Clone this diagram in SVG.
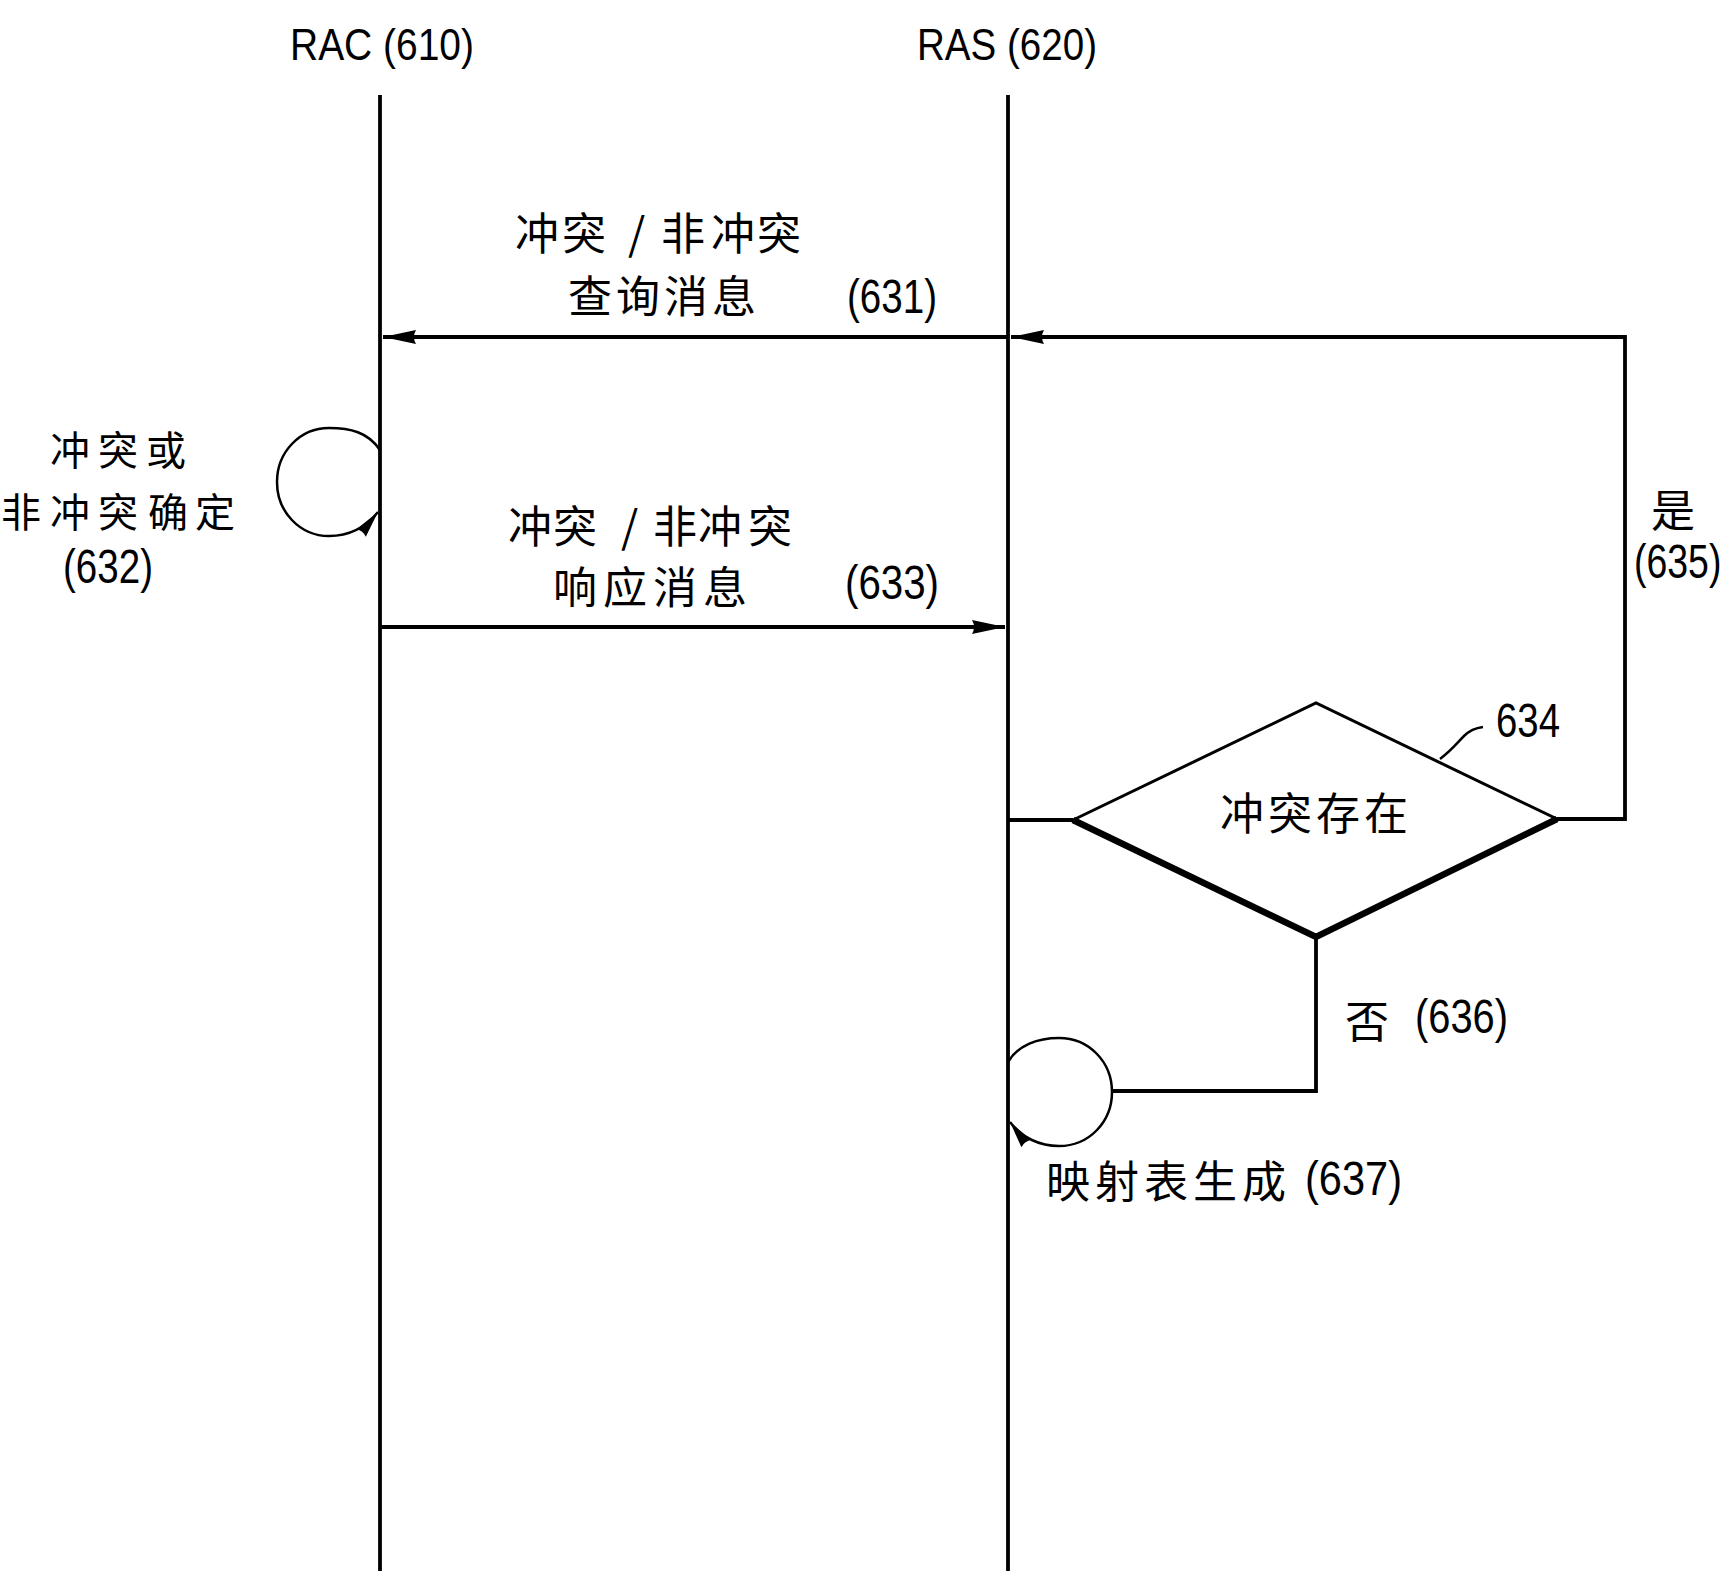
<svg xmlns="http://www.w3.org/2000/svg" width="1736" height="1582" viewBox="0 0 1736 1582">
<style>
.cjk{font-family:"Noto Sans CJK SC","Noto Sans CJK JP",sans-serif;font-size:44px;fill:#000}
.cjk40{font-family:"Noto Sans CJK SC","Noto Sans CJK JP",sans-serif;font-size:40px;fill:#000}
.num{font-family:"Liberation Sans",Arial,sans-serif;font-size:48px;fill:#000}
.hd{font-family:"Liberation Sans",Arial,sans-serif;font-size:44px;fill:#000}
.ln{stroke:#000;fill:none;stroke-width:3.8}
.thin{stroke:#000;fill:none;stroke-width:2.5}
</style>
<defs>
<marker id="ah" markerUnits="userSpaceOnUse" markerWidth="36" markerHeight="18" refX="33" refY="9" orient="auto">
<path d="M0,2 L33,9 L0,16 Q4,9 0,2z" fill="#000"/>
</marker>
<marker id="ahs" markerUnits="userSpaceOnUse" markerWidth="30" markerHeight="16" refX="27" refY="8" orient="auto">
<path d="M0,2 L27,8 L0,14 Q3,8 0,2z" fill="#000"/>
</marker>
</defs>
<rect width="1736" height="1582" fill="#fff"/>

<g id="rac">
<text class="hd" x="290" y="60" textLength="184" lengthAdjust="spacingAndGlyphs">RAC (610)</text>
<line class="ln" x1="380" y1="95" x2="380" y2="1571"/>
</g>
<g id="ras">
<text class="hd" x="917" y="60" textLength="180" lengthAdjust="spacingAndGlyphs">RAS (620)</text>
<line class="ln" x1="1008" y1="95" x2="1008" y2="1571"/>
</g>

<g id="decision-634">
<polygon points="1073,820 1316,703 1557,819 1316,937" fill="#fff" stroke="#000" stroke-width="3" stroke-linejoin="miter"/>
<polyline points="1073,820 1316,937 1557,819" fill="none" stroke="#000" stroke-width="6.5"/>
<text class="cjk" y="830" x="1220 1268 1316 1364">冲突存在</text>
<path class="thin" d="M1440,759 C1452,750 1458,742 1464,736 C1470,730 1475,728 1483,727"/>
<text class="num" x="1496" y="737" textLength="64" lengthAdjust="spacingAndGlyphs">634</text>
</g>

<g id="loop-632">
<text class="cjk40" y="465" x="50 98 146">冲突或</text>
<text class="cjk40" y="527" x="1 50 98 148 195">非冲突确定</text>
<text class="num" x="63" y="583" textLength="90" lengthAdjust="spacingAndGlyphs">(632)</text>
</g>

<g id="loop-637">
<text class="cjk" y="1198" x="1046 1095 1144 1193 1242">映射表生成</text>
<text class="num" x="1305" y="1195" textLength="97" lengthAdjust="spacingAndGlyphs">(637)</text>
</g>

<g id="connectors">
<!-- 631 query message -->
<line class="ln" x1="1008" y1="337" x2="383" y2="337" marker-end="url(#ah)"/>
<text class="cjk" y="250" x="515 562 600 628 645 661 711 757">冲突 / 非冲突</text>
<text class="cjk" y="313" x="568 616 664 712">查询消息</text>
<text class="num" x="847" y="313" textLength="90" lengthAdjust="spacingAndGlyphs">(631)</text>

<!-- 632 self loop -->
<path class="thin" stroke-width="3" d="M380,450 C368,432 350,428 329,428 C300,428 277,452 277,482 C277,512 300,536 329,536 C350,536 366,527 378,512" marker-end="url(#ahs)"/>

<!-- 633 response message -->
<line class="ln" x1="380" y1="627" x2="1005" y2="627" marker-end="url(#ah)"/>
<text class="cjk" y="543" x="508 553 600 621 640 653 698 748">冲突 / 非冲突</text>
<text class="cjk" y="604" x="553 603 653 703">响应消息</text>
<text class="num" x="845" y="599" textLength="94" lengthAdjust="spacingAndGlyphs">(633)</text>

<!-- RAS to decision -->
<line class="ln" x1="1008" y1="820" x2="1073" y2="820"/>

<!-- 635 yes -->
<polyline class="ln" points="1557,819 1625,819 1625,337 1011,337" marker-end="url(#ah)"/>
<text class="cjk" x="1651" y="527">是</text>
<text class="num" transform="translate(1634,578) scale(0.78,1)">(635)</text>

<!-- 636 no -->
<polyline class="ln" points="1316,937 1316,1091 1112,1091"/>
<text class="cjk" x="1345" y="1038">否</text>
<text class="num" x="1415" y="1033" textLength="93" lengthAdjust="spacingAndGlyphs">(636)</text>

<!-- 637 self loop -->
<path class="thin" stroke-width="3" d="M1008,1062 C1018,1045 1038,1038 1059,1038 C1089,1038 1112,1062 1112,1092 C1112,1122 1089,1146 1059,1146 C1040,1146 1022,1138 1010,1122" marker-end="url(#ahs)"/>
</g>
</svg>
